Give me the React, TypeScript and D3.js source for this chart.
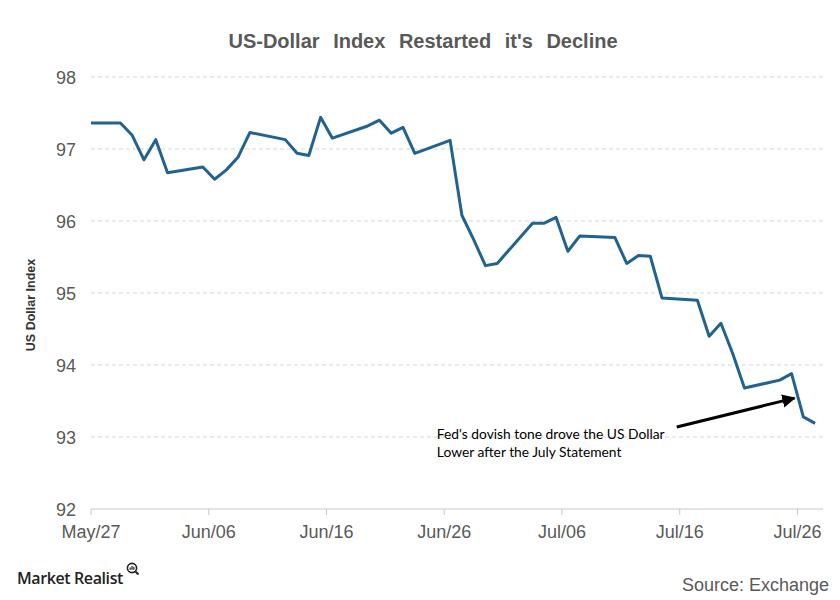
import React from "react";
import * as d3 from "d3";

const dates = [
  "2017-05-26","2017-05-29","2017-05-30","2017-05-31","2017-06-01","2017-06-02",
  "2017-06-05","2017-06-06","2017-06-07","2017-06-08","2017-06-09",
  "2017-06-12","2017-06-13","2017-06-14","2017-06-15","2017-06-16",
  "2017-06-19","2017-06-20","2017-06-21","2017-06-22","2017-06-23",
  "2017-06-26","2017-06-27","2017-06-28","2017-06-29","2017-06-30",
  "2017-07-03","2017-07-04","2017-07-05","2017-07-06","2017-07-07",
  "2017-07-10","2017-07-11","2017-07-12","2017-07-13","2017-07-14",
  "2017-07-17","2017-07-18","2017-07-19","2017-07-20","2017-07-21",
  "2017-07-24","2017-07-25","2017-07-26","2017-07-27",
];
const values = [
  97.36, 97.36, 97.19, 96.85, 97.13, 96.67,
  96.75, 96.58, 96.71, 96.89, 97.23,
  97.13, 96.94, 96.91, 97.44, 97.15,
  97.32, 97.40, 97.22, 97.30, 96.94,
  97.12, 96.08, 95.74, 95.38, 95.41,
  95.97, 95.97, 96.05, 95.58, 95.79,
  95.77, 95.41, 95.52, 95.51, 94.93,
  94.90, 94.40, 94.58, 94.16, 93.68,
  93.79, 93.88, 93.28, 93.19,
];
const yTicks = [92, 93, 94, 95, 96, 97, 98];
const xTickDates = ["2017-05-27","2017-06-06","2017-06-16","2017-06-26","2017-07-06","2017-07-16","2017-07-26"];
const xTickLabels = ["May/27","Jun/06","Jun/16","Jun/26","Jul/06","Jul/16","Jul/26"];
const title = "US-Dollar Index Restarted it's Decline";
const yAxisTitle = "US Dollar Index";
const annotationLines = ["Fed's dovish tone drove the US Dollar", "Lower after the July Statement"];
// annotation arrow anchors in data space: [date, value]
const arrowFrom: [string, number] = ["2017-07-15T18:00", 93.14];
const arrowTo: [string, number] = ["2017-07-25T18:00", 93.54];
const annotationAnchor: [string, number] = ["2017-06-25T09:00", 92.97];

const parse = (s: string) => (s.length > 10 ? d3.isoParse(s + ":00")! : d3.timeParse("%Y-%m-%d")(s)!);

export default function App() {
  const W = 840, H = 600;
  const x = d3.scaleTime()
    .domain([new Date(2017, 4, 27), new Date(2017, 6, 28)])
    .range([91, 821]);
  const y = d3.scaleLinear().domain([92, 98]).range([509, 77]);
  const data = dates.map((d, i) => ({ t: d3.timeHour.offset(parse(d), 12), v: values[i] }));
  const line = d3.line<{ t: Date; v: number }>().x(d => x(d.t)).y(d => y(d.v));
  const gridRight = 823;
  const grey = "#595959";
  const af = [x(parse(arrowFrom[0])), y(arrowFrom[1])];
  const at = [x(parse(arrowTo[0])), y(arrowTo[1])];
  const ta = [x(parse(annotationAnchor[0])), y(annotationAnchor[1])];

  return (
    <svg width={W} height={H} style={{ position: "absolute", left: 0, top: 0, background: "#fff" }}
      fontFamily="'Liberation Sans', Arial, sans-serif">
      <defs>
        <clipPath id="plot">
          <rect x={91} y={60} width={735} height={460} />
        </clipPath>
        <marker id="arr" viewBox="0 0 10 10" refX="9" refY="5" markerWidth="4.5" markerHeight="4.5" orient="auto" markerUnits="strokeWidth">
          <path d="M0,0 L10,5 L0,10 z" fill="#000" />
        </marker>
      </defs>
      <rect width={W} height={H} fill="#fff" />
      <text x={423} y={48} textAnchor="middle" fontSize={20} fontWeight="bold" fill={grey} wordSpacing={8}>{title}</text>

      {yTicks.filter(t => t !== 92).map(t => (
        <line key={t} x1={91} x2={gridRight} y1={y(t)} y2={y(t)} stroke="#d6d6d6" strokeWidth={1} strokeDasharray="4,3" />
      ))}
      <line x1={91} x2={gridRight} y1={y(92)} y2={y(92)} stroke="#c8c8c8" strokeWidth={1} />
      {xTickDates.map((d, i) => (
        <g key={d}>
          <line x1={x(parse(d))} x2={x(parse(d))} y1={y(92)} y2={y(92) + 6} stroke="#c8c8c8" />
          <text x={x(parse(d))} y={538} textAnchor="middle" fontSize={18} fill={grey}>{xTickLabels[i]}</text>
        </g>
      ))}
      {yTicks.map(t => (
        <text key={t} x={76} y={y(t) + 6.5} textAnchor="end" fontSize={18} fill={grey}>{t}</text>
      ))}
      <text transform={`translate(35,${305}) rotate(-90)`} textAnchor="middle" fontSize={12.5} fontWeight="bold" fill="#333">{yAxisTitle}</text>

      <path d={line(data)!} fill="none" stroke="#22628f" strokeWidth={3} strokeLinejoin="round" clipPath="url(#plot)" />

      <line x1={af[0]} y1={af[1]} x2={at[0]} y2={at[1]} stroke="#000" strokeWidth={3} markerEnd="url(#arr)" />
      {annotationLines.map((s, i) => (
        <text key={i} x={ta[0]} y={ta[1] + i * 18} fontFamily="Lato, 'Open Sans', sans-serif" fontSize={13.8} fill="#000">{s}</text>
      ))}

      <text x={17} y={584} fontFamily="'Open Sans', sans-serif" fontSize={16} fontWeight={600} fill="#222" letterSpacing={-0.4}>Market Realist</text>
      <g transform="translate(132,568)">
        <circle cx={0} cy={0} r={4.6} fill="none" stroke="#222" strokeWidth={1.6} />
        <line x1={3.2} y1={3.2} x2={6.5} y2={6.5} stroke="#222" strokeWidth={2} />
        <rect x={-2.4} y={-0.5} width={1.2} height={2.3} fill="#222" />
        <rect x={-0.6} y={-2} width={1.2} height={3.8} fill="#222" />
        <rect x={1.2} y={-1.2} width={1.2} height={3} fill="#222" />
      </g>
      <text x={829} y={591} textAnchor="end" fontSize={18} fill={grey}>Source: Exchange</text>
    </svg>
  );
}
